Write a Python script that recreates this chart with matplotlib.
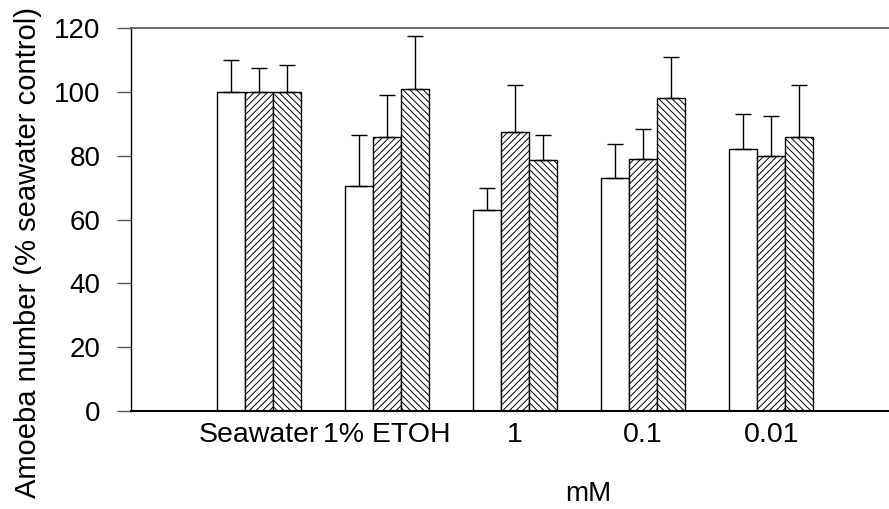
import matplotlib
matplotlib.use("Agg")
import matplotlib.pyplot as plt
import numpy as np

plt.rcParams['font.family'] = ['Liberation Sans', 'DejaVu Sans']
plt.rcParams['hatch.linewidth'] = 0.7

categories = ["Seawater", "1% ETOH", "1", "0.1", "0.01"]
series_a = [100, 70.5, 63, 73, 82]
series_b = [100, 86, 87.5, 79, 80]
series_c = [100, 101, 78.5, 98, 86]
err_a = [10, 16, 7, 10.5, 11]
err_b = [7.5, 13, 14.5, 9.5, 12.5]
err_c = [8.5, 16.5, 8, 13, 16]
yticks = [0, 20, 40, 60, 80, 100, 120]

fig = plt.figure(figsize=(8.89, 5.09), dpi=100)
ax = fig.add_axes([131/889, 98/509, 758/889, 383/509])

x = np.arange(len(categories))
w = 28/128
hatches = [None, '/////', '\\\\\\\\\\']
for i, (vals, errs, h) in enumerate(zip([series_a, series_b, series_c],
                                         [err_a, err_b, err_c], hatches)):
    pos = x + (i - 1) * w
    ax.bar(pos, vals, width=w, color='white', edgecolor='black',
           linewidth=1.0, hatch=h, zorder=2)
    ax.errorbar(pos, vals, yerr=[np.zeros(len(errs)), errs], fmt='none',
                ecolor='black', elinewidth=1.0, capsize=5.8, capthick=1.0,
                zorder=3)

ax.set_xlim(-1, 4.92)
ax.set_ylim(0, 120)
ax.set_yticks(yticks)
ax.set_yticklabels([str(t) for t in yticks], fontsize=20)
ax.set_xticks(x)
ax.set_xticklabels(categories, fontsize=20.5)
ax.tick_params(axis='x', length=0, pad=8)
ax.tick_params(axis='y', length=10, width=1, color='#555555', pad=12)

ax.spines['right'].set_visible(False)
ax.spines['top'].set_color('#555555')
ax.spines['top'].set_linewidth(1.2)
ax.spines['left'].set_linewidth(1.0)
ax.spines['bottom'].set_linewidth(1.5)

ax.set_ylabel("Amoeba number (% seawater control)", fontsize=21)
ax.yaxis.set_label_coords(-0.118, 0.415)
ax.set_xlabel("mM", fontsize=20)
ax.xaxis.set_label_coords(0.603, -0.183)

fig.savefig("out.png", dpi=100)
